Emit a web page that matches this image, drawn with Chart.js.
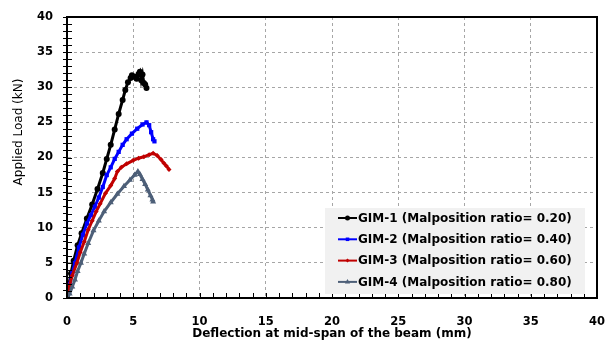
<!DOCTYPE html>
<html>
<head>
<meta charset="utf-8">
<script src="https://cdn.jsdelivr.net/npm/chart.js@4.4.0/dist/chart.umd.min.js"></script>
<style>
  html, body { margin: 0; padding: 0; background: #ffffff; }
  #wrap { width: 611px; height: 341px; }
</style>
</head>
<body>
<div id="wrap"><canvas id="grafico" width="611" height="341"></canvas></div>
<script>
// Dados (deflexão em mm, carga em kN)
const serieNomes = [
    "GIM-1 (Malposition ratio= 0.20)",
    "GIM-2 (Malposition ratio= 0.40)",
    "GIM-3 (Malposition ratio= 0.60)",
    "GIM-4 (Malposition ratio= 0.80)"
];

const gim1Deflexao = [0, 0.1, 0.3, 0.5, 0.8, 1.1, 1.5, 1.9, 2.3, 2.7, 3.0, 3.3, 3.6, 3.9, 4.2, 4.4, 4.6, 4.8, 4.9, 5.1, 5.25, 5.4, 5.5, 5.6, 5.7, 5.8, 5.9, 6.0];
const gim1Carga    = [0, 1.5, 3.5, 5.3, 7.5, 9.2, 11.3, 13.3, 15.5, 17.8, 19.8, 21.8, 24.0, 26.2, 28.2, 29.6, 30.7, 31.3, 31.7, 31.5, 31.2, 31.9, 32.2, 31.0, 31.8, 30.6, 30.4, 29.9];

const gim2Deflexao = [0, 0.2, 0.4, 0.6, 0.9, 1.2, 1.5, 1.8, 2.1, 2.4, 2.7, 3.0, 3.3, 3.6, 3.9, 4.2, 4.5, 4.9, 5.3, 5.7, 6.0, 6.2, 6.35, 6.5, 6.6];
const gim2Carga    = [0, 2.0, 3.6, 5.0, 7.2, 9.0, 10.6, 11.8, 13.0, 14.3, 15.8, 17.5, 18.6, 19.8, 20.8, 21.8, 22.6, 23.4, 24.1, 24.7, 25.0, 24.6, 23.6, 22.6, 22.3];

const gim3Deflexao = [0, 0.15, 0.4, 0.75, 1.0, 1.3, 1.6, 1.9, 2.2, 2.5, 2.9, 3.3, 3.6, 3.8, 4.1, 4.5, 5.0, 5.4, 5.8, 6.2, 6.5, 6.8, 7.1, 7.3, 7.5, 7.7];
const gim3Carga    = [0, 1.5, 3.2, 5.0, 6.5, 8.0, 9.7, 11.0, 12.3, 13.4, 14.9, 16.0, 17.0, 18.0, 18.6, 19.1, 19.6, 19.9, 20.1, 20.4, 20.6, 20.3, 19.7, 19.2, 18.8, 18.3];

const gim4Deflexao = [0, 0.2, 0.4, 0.6, 0.8, 1.05, 1.3, 1.6, 2.0, 2.4, 2.8, 3.3, 3.8, 4.3, 4.75, 5.1, 5.35, 5.5, 5.7, 5.9, 6.1, 6.3, 6.45, 6.5];
const gim4Carga    = [0, 0.6, 1.6, 2.6, 3.8, 5.0, 6.3, 7.8, 9.6, 11.0, 12.3, 13.6, 14.8, 15.9, 16.8, 17.5, 18.0, 17.6, 16.9, 16.2, 15.4, 14.6, 14.0, 13.7];

const cores = ["#000000", "#0000ff", "#c00000", "#4d5f78"];
const marcadores = ["circle", "rect", "rectRot", "triangle"];
const raios = [3, 3, 2.5, 3.5];

const eixoMin = 0, eixoMax = 40;

function pares(xs, ys) {
    return xs.map((x, i) => ({ x: x, y: ys[i] }));
}

const todasDeflexoes = [gim1Deflexao, gim2Deflexao, gim3Deflexao, gim4Deflexao];
const todasCargas = [gim1Carga, gim2Carga, gim3Carga, gim4Carga];

const datasets = serieNomes.map((nome, i) => ({
    label: nome,
    data: pares(todasDeflexoes[i], todasCargas[i]),
    borderColor: cores[i],
    backgroundColor: cores[i],
    borderWidth: 3,
    pointStyle: marcadores[i],
    pointRadius: raios[i],
    pointBorderWidth: 0,
    order: 4 - i, // GIM-4 desenhado por cima, como no original
    showLine: true,
    tension: 0,
}));

// Moldura, marcas internas, título do eixo Y e legenda
const extras = {
    id: "extras",
    afterDraw(chart) {
        const { ctx, chartArea: a, scales } = chart;
        ctx.save();

        // marcas internas
        ctx.strokeStyle = "#000";
        ctx.lineWidth = 1;
        ctx.beginPath();
        for (let v = eixoMin + 1; v < eixoMax; v++) {
            const px = Math.round(scales.x.getPixelForValue(v)) + 0.5;
            ctx.moveTo(px, a.bottom);
            ctx.lineTo(px, a.bottom - 5);
            const py = Math.round(scales.y.getPixelForValue(v)) + 0.5;
            ctx.moveTo(a.left, py);
            ctx.lineTo(a.left + 5, py);
        }
        ctx.stroke();

        // moldura
        ctx.lineWidth = 2;
        ctx.strokeRect(a.left, a.top, a.right - a.left, a.bottom - a.top);

        // título do eixo Y
        ctx.fillStyle = "#000";
        ctx.font = "12px 'DejaVu Sans'";
        ctx.textAlign = "center";
        ctx.textBaseline = "middle";
        ctx.translate(19, 132);
        ctx.rotate(-Math.PI / 2);
        ctx.fillText("Applied Load (kN)", 0, 0);
        ctx.setTransform(1, 0, 0, 1, 0, 0);

        // legenda
        const bx = 325, by = 208, bw = 260, bh = 86;
        ctx.fillStyle = "#f1f1f1";
        ctx.fillRect(bx, by, bw, bh);
        ctx.font = "bold 12px 'DejaVu Sans'";
        ctx.textAlign = "left";
        serieNomes.forEach((nome, i) => {
            const y = 218 + i * 21.3;
            ctx.strokeStyle = cores[i];
            ctx.lineWidth = 2;
            ctx.beginPath();
            ctx.moveTo(338, y);
            ctx.lineTo(357, y);
            ctx.stroke();
            ctx.fillStyle = cores[i];
            Chart.helpers.drawPoint(ctx, { pointStyle: marcadores[i], radius: raios[i] - 0.5, borderWidth: 0 }, 347.5, y);
            ctx.fillStyle = "#000";
            ctx.fillText(nome, 358, y + 0.5);
        });
        ctx.restore();
    }
};

const fonteTicks = { family: "'DejaVu Sans'", size: 11.5, weight: "bold" };

new Chart(document.getElementById("grafico").getContext("2d"), {
    type: "scatter",
    data: { datasets: datasets },
    options: {
        responsive: false,
        animation: false,
        layout: { padding: { left: 0, right: 14, top: 17, bottom: 0 } },
        plugins: {
            legend: { display: false },
            tooltip: { enabled: false },
        },
        scales: {
            x: {
                type: "linear",
                min: eixoMin,
                max: eixoMax,
                afterFit: (s) => { s.height = 43; },
                ticks: {
                    stepSize: 1,
                    autoSkip: false,
                    maxRotation: 0,
                    padding: 3,
                    color: "#000",
                    font: fonteTicks,
                    callback: (v) => (v % 5 === 0 ? v : ""),
                },
                grid: {
                    drawTicks: true,
                    tickLength: 14,
                    tickColor: "rgba(0,0,0,0)",
                    color: (c) => (c.tick && c.tick.value % 5 === 0 && c.tick.value > eixoMin && c.tick.value < eixoMax ? "#a6a6a6" : "rgba(0,0,0,0)"),
                    lineWidth: 1,
                },
                border: { display: true, color: "#000", width: 2, dash: [3, 3] },
                title: {
                    display: true,
                    text: "Deflection at mid-span of the beam (mm)",
                    color: "#000",
                    font: { family: "'DejaVu Sans'", size: 12, weight: "bold" },
                    padding: { top: 0, bottom: 0 },
                },
            },
            y: {
                type: "linear",
                min: eixoMin,
                max: eixoMax,
                afterFit: (s) => { s.width = 67; },
                ticks: {
                    stepSize: 1,
                    autoSkip: false,
                    padding: 10,
                    color: "#000",
                    font: fonteTicks,
                    callback: (v) => (v % 5 === 0 ? v : ""),
                },
                grid: {
                    drawTicks: true,
                    tickLength: 4,
                    tickColor: "#000",
                    color: (c) => (c.tick && c.tick.value % 5 === 0 && c.tick.value > eixoMin && c.tick.value < eixoMax ? "#a6a6a6" : "rgba(0,0,0,0)"),
                    lineWidth: 1,
                },
                border: { display: true, color: "#000", width: 2, dash: [3, 3] },
            },
        },
    },
    plugins: [extras],
});
</script>
</body>
</html>
